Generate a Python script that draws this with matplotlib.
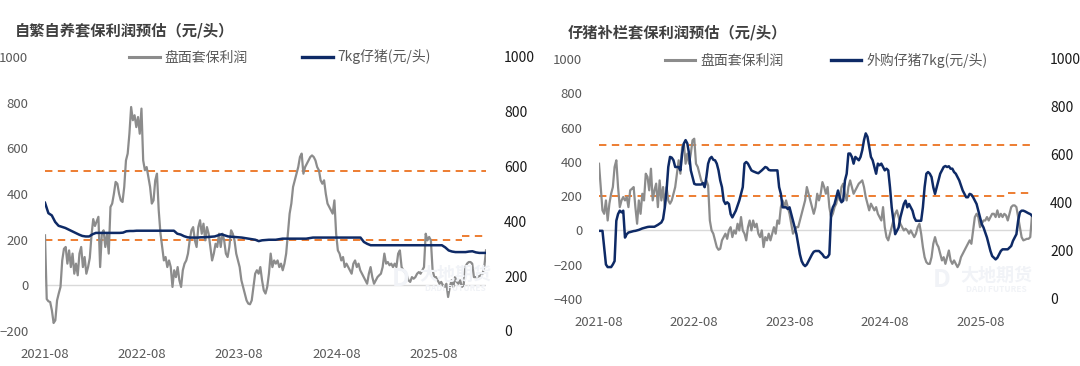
import pandas as pd
import matplotlib
matplotlib.use('Agg')
import matplotlib.pyplot as plt
from matplotlib.lines import Line2D

plt.rcParams['font.family'] = ['Noto Sans CJK SC', 'DejaVu Sans']

start = '2021-08-01'
end = '2026-02-15'
step_date = '2025-11-15'
year_ticks = ['2021-08-01', '2022-08-01', '2023-08-01', '2024-08-01', '2025-08-01']

# 自繁自养: 盘面套保利润 (left axis)
left_profit = [219, -60, -70, -73, -110, -165, -153, -66, -35, -7,
               109, 160, 168, 95, 153, 80, 139, 51, 95, 44,
               139, 168, 80, 124, 51, 80, 120, 220, 290, 260,
               280, 300, 80, 226, 241, 168, 226, 139, 343, 358,
               401, 453, 445, 401, 372, 365, 431, 547, 577, 664,
               781, 723, 745, 693, 737, 664, 774, 547, 504, 518,
               474, 431, 358, 372, 460, 489, 330, 230, 170, 109,
               124, 80, 109, 80, -7, 66, 36, 80, 22, -7,
               66, 95, 109, 139, 197, 241, 255, 197, 168, 255,
               285, 226, 270, 197, 255, 226, 168, 109, 139, 182,
               168, 226, 168, 226, 197, 139, 124, 168, 241, 226,
               197, 139, 109, 80, 22, -7, -36, -66, -80, -83,
               -66, -7, 51, 66, 51, 80, 22, -22, -36, -7,
               51, 139, 80, 109, 95, 109, 80, 95, 66, 95,
               139, 226, 314, 358, 431, 460, 489, 518, 562, 577,
               489, 518, 533, 547, 562, 569, 562, 547, 518, 504,
               460, 445, 460, 401, 358, 343, 328, 314, 372, 226,
               153, 139, 109, 124, 80, 95, 80, 66, 51, 95,
               109, 80, 95, 66, 51, 36, 22, 7, 51, 80,
               36, 7, 22, 36, 44, 51, 80, 139, 95, 102,
               88, 95, 80, 95, 80, 139, 153, 80, 66, 58,
               44, 22, 15, 36, 29, 36, 51, 58, 51, 66,
               80, 226, 197, 212, 197, 66, 36, 36, 22, 7,
               15, 0, -7, 7, -51, -7, 22, -7, 36, 15,
               7, 22, -7, 0, 80, 95, 102, 102, 95, 36,
               36, 36, 40, 44, 51, 80, 153]

# 自繁自养: 7kg仔猪(元/头) (right axis)
left_piglet = ([468, 430, 422, 398, 384, 380, 376, 370, 364, 358, 352, 347, 345, 345,
                353] + [358] * 8 + [359, 364, 365, 365] + [366] * 12 +
               [355, 352, 346, 342, 341, 341, 341, 342, 342, 343, 344, 345, 349, 353,
                349, 345, 344, 343, 342, 341, 339, 337, 335, 333, 328, 331, 332, 333,
                333, 333, 335] + [337] * 8 + [339] + [341] * 15 +
               [325, 318] + [313] * 22 +
               [305, 294, 290, 288, 288, 288, 288, 290, 291, 287, 285, 285, 285])

# 仔猪补栏: 盘面套保利润 (left axis)
right_profit = [389, 253, 117, 97, 175, 58, 156, 214, 253, 370,
                409, 253, 136, 175, 195, 175, 195, 136, 234, 243,
                253, 136, 39, 175, 97, 214, 175, 331, 312, 234,
                360, 175, 234, 273, 136, 292, 175, 253, 136, 253,
                175, 156, 175, 214, 253, 331, 409, 331, 487, 506,
                389, 448, 389, 448, 526, 535, 389, 370, 331, 292,
                273, 253, 292, 263, 58, 0, -19, -58, -97, -113,
                -107, -58, -39, -19, -49, 0, 19, -39, 0, -19,
                39, 0, 78, 0, -19, -58, 19, 58, 0, 58,
                19, 39, -19, -39, 0, -97, -39, -58, -19, -58,
                -19, 19, -19, 58, 39, 136, 175, 136, 175, 136,
                97, 39, -19, 0, 19, 19, 58, 97, 136, 175,
                253, 214, 175, 136, 97, 136, 214, 175, 214, 282,
                253, 214, 253, 136, 78, 97, 136, 156, 214, 175,
                253, 273, 214, 175, 253, 292, 253, 214, 234, 253,
                273, 282, 292, 253, 195, 156, 117, 156, 136, 117,
                136, 97, 78, 58, 136, 19, -39, -58, -19, 19,
                58, 97, 117, 78, 39, 19, 0, 10, 0, -19,
                0, -19, -39, -19, 19, 39, -19, -97, -156, -185,
                -195, -195, -156, -78, -39, -78, -97, -136, -175, -156,
                -195, -156, -117, -175, -195, -175, -195, -214, -195, -156,
                -136, -117, -97, -78, -58, -78, 0, 78, 97, 78,
                19, 39, 58, 58, 78, 58, 78, 97, 97, 78,
                117, 78, 97, 78, 97, 88, 58, 97, 136, 146,
                146, 136, 78, 19, -39, -58, -54, -49, -49, -39,
                90]

# 仔猪补栏: 外购仔猪7kg(元/头) (right axis)
right_piglet = [284, 284, 284, 214, 144, 133, 133, 133, 144, 158,
                326, 354, 368, 361, 368, 256, 270, 277, 279, 281,
                283, 284, 286, 288, 291, 294, 296, 298, 300, 301,
                301, 301, 301, 305, 309, 314, 319, 333, 382, 452,
                550, 592, 589, 578, 550, 550, 550, 536, 606, 648,
                662, 648, 606, 536, 508, 480, 477, 477, 477, 477,
                483, 466, 508, 564, 585, 592, 580, 578, 564, 536,
                494, 466, 410, 396, 403, 396, 354, 340, 354, 368,
                389, 410, 438, 466, 564, 571, 564, 550, 536, 532,
                529, 526, 524, 530, 536, 543, 550, 547, 538, 536,
                536, 536, 536, 536, 466, 438, 382, 382, 382, 375,
                382, 354, 326, 298, 270, 228, 186, 158, 144, 137,
                144, 158, 172, 186, 197, 200, 200, 200, 193, 186,
                175, 172, 175, 186, 354, 382, 396, 424, 452, 424,
                403, 410, 494, 522, 606, 606, 592, 564, 592, 585,
                578, 592, 620, 662, 690, 676, 634, 592, 578, 550,
                522, 564, 557, 564, 550, 536, 543, 536, 466, 382,
                326, 270, 284, 298, 340, 368, 396, 410, 382, 396,
                382, 368, 340, 326, 326, 326, 326, 382, 466, 522,
                529, 522, 508, 466, 438, 466, 494, 522, 536, 550,
                554, 550, 553, 543, 543, 529, 522, 508, 494, 473,
                452, 438, 424, 424, 438, 435, 424, 410, 396, 368,
                340, 312, 298, 277, 256, 228, 200, 179, 172, 165,
                172, 186, 200, 207, 207, 207, 207, 214, 221, 242,
                256, 270, 326, 361, 368, 368, 365, 361, 357, 354,
                347]

# dashed reference levels (left axis)
upper_level = 500
lower_level = 200
lower_level_new = 218

charts = [
    dict(title='自繁自养套保利润预估（元/头）', profit=left_profit, piglet=left_piglet,
         piglet_label='7kg仔猪(元/头)', ylim_l=(-200, 1000), ylim_r=(0, 1000),
         rect=[45 / 1080, 1 - 331 / 366, 441 / 1080, 274 / 366],
         title_xy=(15 / 1080, 1 - 30 / 366), legend_xy=(280 / 1080, 1 - 57 / 366), colsp=3.9,
         wm_xy=(455 / 1080, 1 - 274 / 366)),
    dict(title='仔猪补栏套保利润预估（元/头）', profit=right_profit, piglet=right_piglet,
         piglet_label='外购仔猪7kg(元/头)', ylim_l=(-400, 1000), ylim_r=(0, 1000),
         rect=[599 / 1080, 1 - 299 / 366, 433 / 1080, 240 / 366],
         title_xy=(568 / 1080, 1 - 33 / 366), legend_xy=(826 / 1080, 1 - 60 / 366), colsp=3.4,
         wm_xy=(996 / 1080, 1 - 275 / 366)),
]

GRAY = '#8c8c8c'
NAVY = '#0e2a66'
ORANGE = '#ed7d31'
TXT = '#595959'
WM = '#f1f3f7'

fig = plt.figure(figsize=(10.8, 3.66), dpi=100)
t0, t1, ts = pd.Timestamp(start), pd.Timestamp(end), pd.Timestamp(step_date)

for c in charts:
    ax = fig.add_axes(c['rect'])
    ax2 = ax.twinx()
    d_profit = pd.date_range(start, end, periods=len(c['profit']))
    d_piglet = pd.date_range(start, end, periods=len(c['piglet']))

    # faint watermark
    wx, wy = c['wm_xy']
    fig.text(wx, wy, '大地期货', color=WM, fontsize=13, fontweight='bold',
             ha='center', va='center', zorder=0)
    fig.text(wx, wy - 0.04, 'DADI FUTURES', color=WM, fontsize=6, fontweight='bold',
             ha='center', va='center', zorder=0)
    fig.text(wx - 0.05, wy - 0.015, 'D', color=WM, fontsize=18, fontweight='bold',
             ha='center', va='center', zorder=0)

    ax.plot([t0, t1], [0, 0], color='#d9d9d9', lw=1.0, zorder=1)
    ax.plot([t0, t1], [upper_level] * 2, color=ORANGE, lw=1.4, dashes=(3.8, 2.8), zorder=2)
    ax.plot([t0, ts], [lower_level] * 2, color=ORANGE, lw=1.4, dashes=(3.8, 2.8), zorder=2)
    ax.plot([ts, t1], [lower_level_new] * 2, color=ORANGE, lw=1.4, dashes=(3.8, 2.8), zorder=2)
    ax.plot(d_profit, c['profit'], color=GRAY, lw=1.6, zorder=3)
    ax2.plot(d_piglet, c['piglet'], color=NAVY, lw=1.8, zorder=4)

    ax.set_xlim(t0, t1)
    ax.set_ylim(*c['ylim_l'])
    ax2.set_ylim(*c['ylim_r'])
    ax.set_yticks(range(c['ylim_l'][0], 1001, 200))
    ax2.set_yticks(range(0, 1001, 200))
    ax.set_xticks(pd.to_datetime(year_ticks))
    ax.set_xticklabels([pd.Timestamp(t).strftime('%Y-%m') for t in year_ticks])
    ax.tick_params(axis='x', length=0, pad=12, labelsize=9.5, labelcolor=TXT)
    ax.tick_params(axis='y', length=0, pad=12, labelsize=9.5, labelcolor=TXT)
    ax2.tick_params(axis='y', length=0, pad=13, labelsize=10, labelcolor='#1a1a1a')
    for a in (ax, ax2):
        for s in a.spines.values():
            s.set_visible(False)
        a.patch.set_visible(False)

    fig.text(c['title_xy'][0], c['title_xy'][1], c['title'], fontsize=11, fontweight='bold',
             color='#404040', ha='left', va='center')
    handles = [Line2D([], [], color=GRAY, lw=2.2), Line2D([], [], color=NAVY, lw=2.4)]
    ax.legend(handles, ['盘面套保利润', c['piglet_label']], loc='center', ncol=2,
              bbox_to_anchor=c['legend_xy'], bbox_transform=fig.transFigure, frameon=False,
              fontsize=10, labelcolor=TXT, handlelength=2.2, handletextpad=0.35,
              columnspacing=c['colsp'], borderpad=0, borderaxespad=0)

fig.savefig('out.png', dpi=100)
